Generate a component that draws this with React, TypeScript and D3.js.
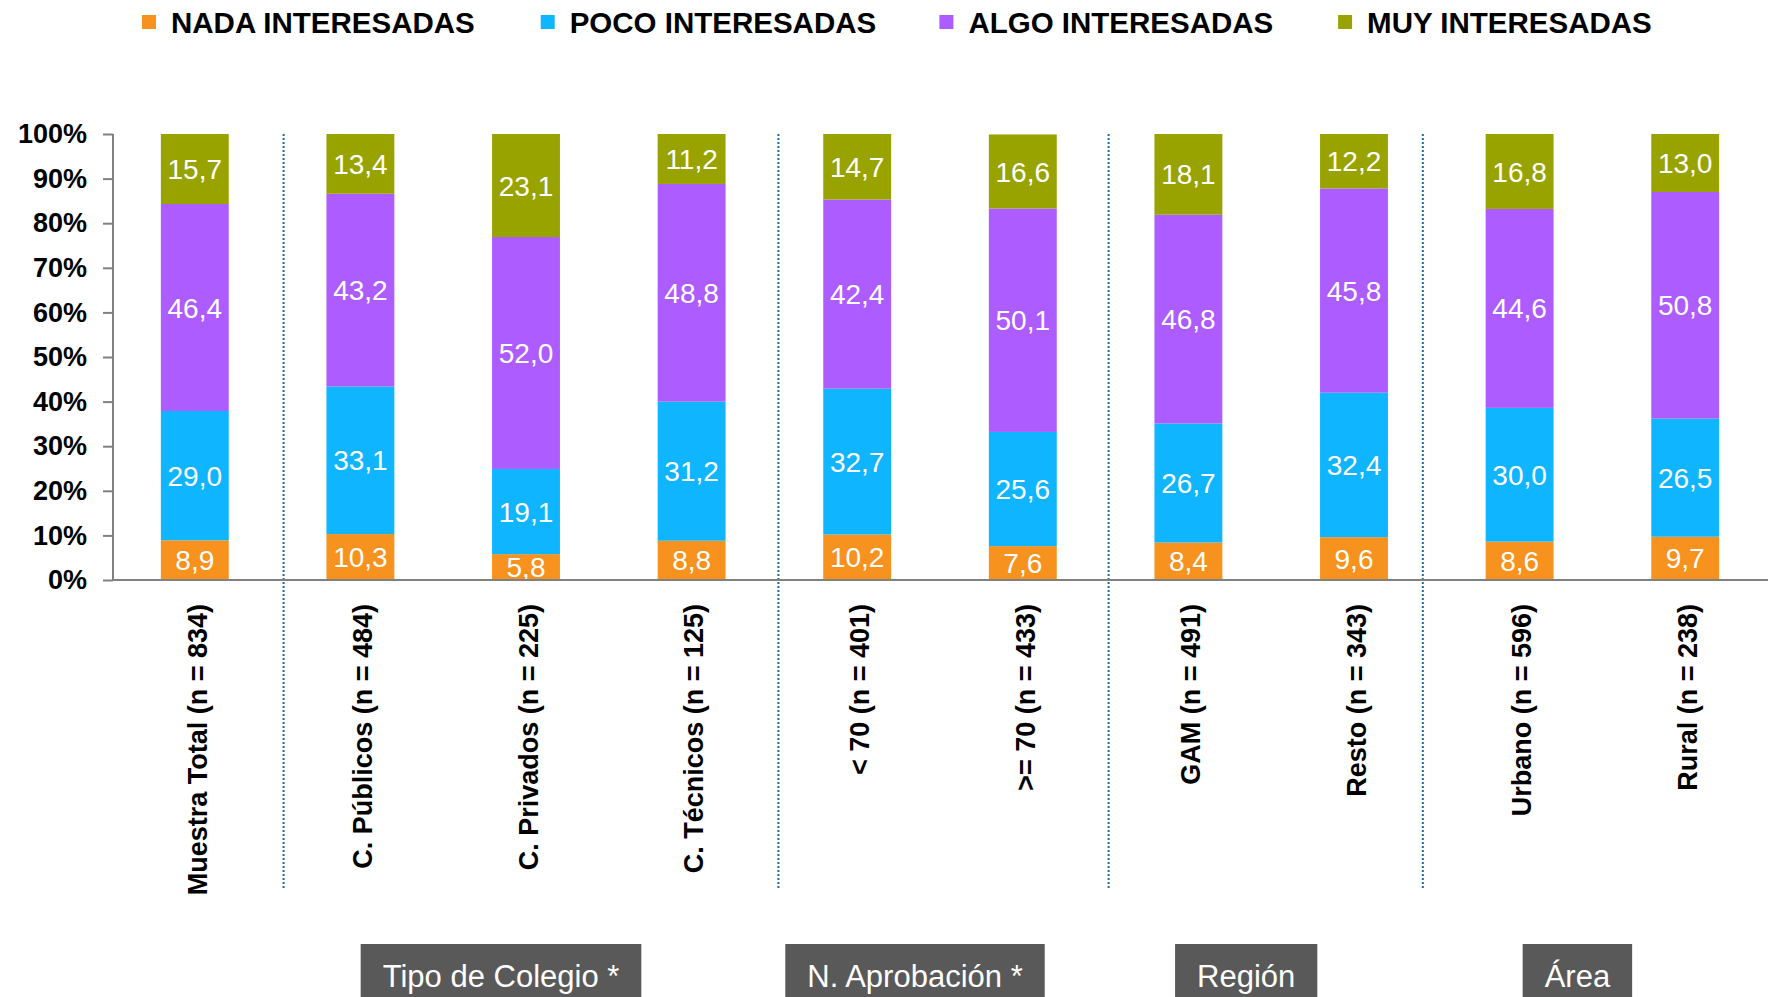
import React, { useRef, useEffect } from 'react';
import * as d3 from 'd3';

const categories = [
  'Muestra Total (n = 834)',
  'C. Públicos (n = 484)',
  'C. Privados (n = 225)',
  'C. Técnicos (n = 125)',
  '< 70 (n = 401)',
  '>= 70 (n = 433)',
  'GAM (n = 491)',
  'Resto (n = 343)',
  'Urbano (n = 596)',
  'Rural (n = 238)',
];

const nada = [8.9, 10.3, 5.8, 8.8, 10.2, 7.6, 8.4, 9.6, 8.6, 9.7];
const poco = [29.0, 33.1, 19.1, 31.2, 32.7, 25.6, 26.7, 32.4, 30.0, 26.5];
const algo = [46.4, 43.2, 52.0, 48.8, 42.4, 50.1, 46.8, 45.8, 44.6, 50.8];
const muy = [15.7, 13.4, 23.1, 11.2, 14.7, 16.6, 18.1, 12.2, 16.8, 13.0];

const seriesNames = ['NADA INTERESADAS', 'POCO INTERESADAS', 'ALGO INTERESADAS', 'MUY INTERESADAS'];
const seriesColors = ['#F7921E', '#0FB5FF', '#AD5CFF', '#99A300'];

const yTicks = [0, 10, 20, 30, 40, 50, 60, 70, 80, 90, 100];

const groupLabels = ['Tipo de Colegio *', 'N. Aprobación *', 'Región', 'Área'];
const groupFirst = [1, 4, 6, 8];
const groupLast = [3, 5, 7, 9];

const FONT = '"Liberation Sans", Arial, sans-serif';

const Chart = () => {
  const svgRef = useRef(null);
  const width = 1773;
  const height = 997;

  useEffect(() => {
    const svg = d3.select(svgRef.current);
    svg.selectAll('*').remove();

    const plot = { left: 112, right: 1768, top: 134, bottom: 580 };

    const x = d3.scaleBand()
      .domain(categories)
      .range([plot.left, plot.right])
      .paddingInner(0.59)
      .paddingOuter(0.295);

    const y = d3.scaleLinear().domain([0, 100]).range([plot.bottom, plot.top]);

    const rows = categories.map((c, i) => ({ cat: c, s0: nada[i], s1: poco[i], s2: algo[i], s3: muy[i] }));
    const stack = d3.stack().keys(['s0', 's1', 's2', 's3']);
    const layers = stack(rows);

    // legend
    const legend = svg.append('g');
    seriesNames.forEach((name, i) => {
      const lx = 142 + i * 398.7;
      legend.append('rect')
        .attr('x', lx).attr('y', 15).attr('width', 14).attr('height', 14)
        .attr('fill', seriesColors[i]);
      legend.append('text')
        .attr('x', lx + 29).attr('y', 33)
        .attr('font-family', FONT).attr('font-weight', 'bold').attr('font-size', 29.5)
        .attr('fill', '#000')
        .text(name);
    });

    // group separators (slightly off the band boundaries in the original)
    const step = x.step();
    const sepNudge = [6, 4, 3, -14];
    groupFirst.forEach((gi, k) => {
      const sx = x(categories[gi]) - (step - x.bandwidth()) / 2 + sepNudge[k];
      svg.append('line')
        .attr('x1', sx).attr('x2', sx)
        .attr('y1', plot.top).attr('y2', 888)
        .attr('stroke', '#1F6A96').attr('stroke-width', 2)
        .attr('stroke-dasharray', '2,2');
    });

    // bars
    layers.forEach((layer, li) => {
      svg.append('g').selectAll('rect')
        .data(layer)
        .enter().append('rect')
        .attr('x', d => x(d.data.cat))
        .attr('y', d => y(d[1]))
        .attr('width', x.bandwidth())
        .attr('height', d => y(d[0]) - y(d[1]))
        .attr('fill', seriesColors[li]);

      svg.append('g').selectAll('text')
        .data(layer)
        .enter().append('text')
        .attr('x', d => x(d.data.cat) + x.bandwidth() / 2)
        .attr('y', d => (y(d[0]) + y(d[1])) / 2)
        .attr('dy', '0.36em')
        .attr('text-anchor', 'middle')
        .attr('font-family', FONT).attr('font-size', 28)
        .attr('fill', '#fff')
        .text(d => (d[1] - d[0]).toFixed(1).replace('.', ','));
    });

    // y axis
    const yAxis = svg.append('g')
      .attr('transform', `translate(${plot.left + 1},0)`)
      .call(d3.axisLeft(y).tickValues(yTicks).tickSize(10).tickPadding(16).tickFormat(d => `${d}%`));
    yAxis.selectAll('line').attr('stroke', '#808080').attr('stroke-width', 2);
    yAxis.select('.domain').attr('stroke', '#808080').attr('stroke-width', 2).attr('d', `M0,${plot.top}V${plot.bottom}`);
    yAxis.selectAll('text')
      .attr('font-family', FONT).attr('font-weight', 'bold').attr('font-size', 27)
      .attr('fill', '#000');

    // x axis line
    svg.append('line')
      .attr('x1', plot.left).attr('x2', plot.right)
      .attr('y1', plot.bottom).attr('y2', plot.bottom)
      .attr('stroke', '#808080').attr('stroke-width', 2);

    // rotated category labels
    svg.append('g').selectAll('text')
      .data(categories)
      .enter().append('text')
      .attr('transform', d => `translate(${x(d) + x.bandwidth() / 2 + 2},604) rotate(-90)`)
      .attr('dy', '0.36em')
      .attr('text-anchor', 'end')
      .attr('font-family', FONT).attr('font-weight', 'bold').attr('font-size', 27)
      .attr('fill', '#000')
      .text(d => d);

    // group boxes
    groupLabels.forEach((label, i) => {
      const cx = (x(categories[groupFirst[i]]) + x(categories[groupLast[i]]) + x.bandwidth()) / 2 - 25;
      const g = svg.append('g');
      const rect = g.append('rect').attr('fill', '#595959');
      const t = g.append('text')
        .attr('x', cx).attr('y', 987)
        .attr('text-anchor', 'middle')
        .attr('font-family', FONT).attr('font-size', 31)
        .attr('fill', '#fff')
        .text(label);
      const tw = t.node().getComputedTextLength();
      rect.attr('x', cx - tw / 2 - 22).attr('y', 944)
        .attr('width', tw + 44).attr('height', 60);
    });
  }, []);

  return (
    <svg ref={svgRef} width={width} height={height}
      style={{ position: 'absolute', left: 0, top: 0, background: '#fff' }} />
  );
};

export default function App() {
  return <Chart />;
}
